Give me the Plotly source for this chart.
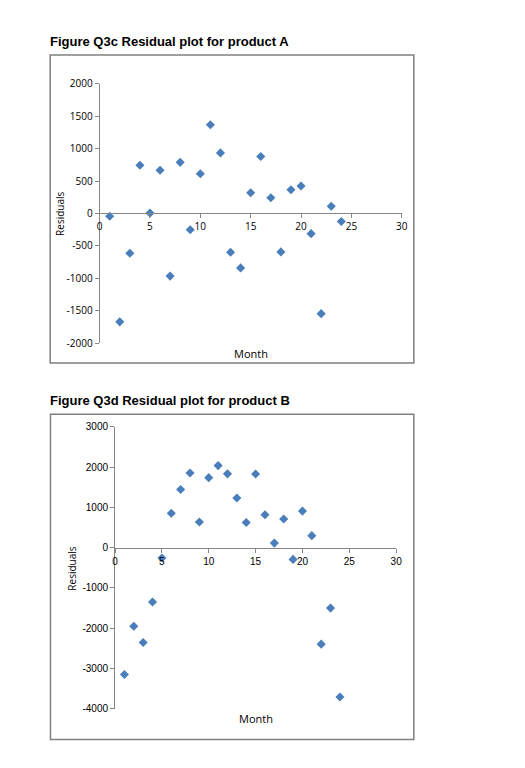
import plotly.graph_objects as go

months = list(range(1, 25))
resid_a = [-45, -1673, -615, 742, 5, 667, -967, 788, -252, 611, 1369, 934,
           -600, -841, 318, 879, 242, -594, 364, 424, -312, -1547, 111, -126]
resid_b = [-3150, -1950, -2355, -1350, -255, 855, 1445, 1855, 640, 1740, 2040, 1835,
           1235, 625, 1830, 820, 115, 715, -290, 910, 300, -2395, -1500, -3710]

title_a = "Figure Q3c Residual plot for product A"
title_b = "Figure Q3d Residual plot for product B"
x_title = "Month"
y_title = "Residuals"

x_range = [0, 30]
x_ticks = [0, 5, 10, 15, 20, 25, 30]
ya_range = [-2000, 2000]
ya_ticks = [-2000, -1500, -1000, -500, 0, 500, 1000, 1500, 2000]
yb_range = [-4000, 3000]
yb_ticks = [-4000, -3000, -2000, -1000, 0, 1000, 2000, 3000]

W, H = 525, 768
def px(x):
    return x / W
def py(y):
    return 1 - y / H

blue = "#4A7EBB"
axis_col = "#868686"

xa_dom = [px(98.3), px(405.7)]
ya_dom = [py(341.7), py(77.3)]
xb_dom = [px(114), px(400)]
yb_dom = [py(714.7), py(427.3)]

def zero_pos(dom, rng):
    return dom[0] + (0 - rng[0]) / (rng[1] - rng[0]) * (dom[1] - dom[0])

fig = go.Figure()
fig.add_trace(go.Scatter(x=months, y=resid_a, mode="markers", xaxis="x", yaxis="y",
                         marker=dict(symbol="diamond", size=7, color=blue), showlegend=False))
fig.add_trace(go.Scatter(x=months, y=resid_b, mode="markers", xaxis="x2", yaxis="y2",
                         marker=dict(symbol="diamond", size=7, color=blue), showlegend=False))

tickfont_a = dict(family="Open Sans", size=10, color="black")
tickfont_b = dict(family="Liberation Sans", size=10, color="black")

common_x = dict(range=x_range, tickvals=x_ticks, ticktext=[str(v) for v in x_ticks],
                showgrid=False, zeroline=False,
                showline=True, linecolor=axis_col, linewidth=1, ticks="outside",
                ticklen=4, tickcolor=axis_col, fixedrange=True)
common_y = dict(showgrid=False, zeroline=False, showline=True, linecolor=axis_col,
                linewidth=1, ticks="outside", ticklen=4, tickcolor=axis_col, fixedrange=True)

fig.update_layout(
    width=W, height=H, margin=dict(l=0, r=0, t=0, b=0),
    paper_bgcolor="white", plot_bgcolor="white",
    xaxis=dict(domain=xa_dom, anchor="free", position=zero_pos(ya_dom, ya_range),
               tickfont=tickfont_a, **common_x),
    yaxis=dict(domain=ya_dom, anchor="x", range=ya_range, tickvals=ya_ticks,
               ticktext=[str(v) for v in ya_ticks], tickfont=tickfont_a, **common_y),
    xaxis2=dict(domain=xb_dom, anchor="free", position=zero_pos(yb_dom, yb_range),
                tickfont=tickfont_b, **common_x),
    yaxis2=dict(domain=yb_dom, anchor="x2", range=yb_range, tickvals=yb_ticks,
                ticktext=[str(v) for v in yb_ticks], tickfont=tickfont_b, **common_y),
    shapes=[
        dict(type="rect", xref="paper", yref="paper", x0=px(48), x1=px(418),
             y0=py(362), y1=py(48), line=dict(color="#808080", width=1.5)),
        dict(type="rect", xref="paper", yref="paper", x0=px(48.3), x1=px(418),
             y0=py(746), y1=py(414.3), line=dict(color="#808080", width=1.5)),
    ],
    annotations=[
        dict(text="<b>" + title_a + "</b>", xref="paper", yref="paper", x=px(46), y=py(34),
             xanchor="left", yanchor="middle", showarrow=False,
             font=dict(family="Liberation Sans", size=13, color="black")),
        dict(text="<b>" + title_b + "</b>", xref="paper", yref="paper", x=px(46), y=py(400),
             xanchor="left", yanchor="middle", showarrow=False,
             font=dict(family="Liberation Sans", size=13, color="black")),
        dict(text=x_title, xref="paper", yref="paper", x=px(252), y=py(352),
             xanchor="center", yanchor="middle", showarrow=False,
             font=dict(family="Open Sans", size=11, color="black")),
        dict(text=x_title, xref="paper", yref="paper", x=px(257), y=py(725),
             xanchor="center", yanchor="middle", showarrow=False,
             font=dict(family="Open Sans", size=11, color="black")),
        dict(text=y_title, xref="paper", yref="paper", x=px(58), y=py(210),
             xanchor="center", yanchor="middle", showarrow=False, textangle=-90,
             font=dict(family="Open Sans", size=10, color="black")),
        dict(text=y_title, xref="paper", yref="paper", x=px(70), y=py(572),
             xanchor="center", yanchor="middle", showarrow=False, textangle=-90,
             font=dict(family="Open Sans", size=10, color="black")),
    ],
)

fig.write_html("out.html")
